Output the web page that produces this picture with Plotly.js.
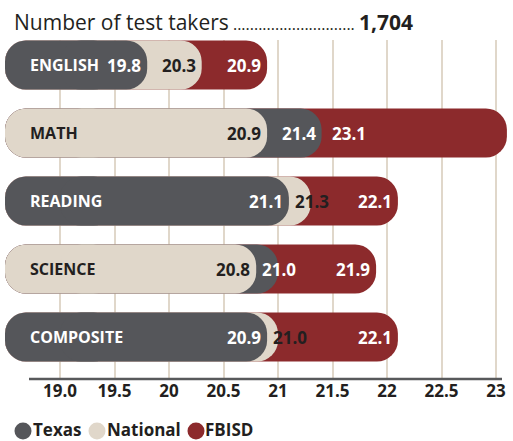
<!DOCTYPE html>
<html>
<head>
<meta charset="utf-8">
<script src="https://cdn.plot.ly/plotly-3.0.1.min.js"></script>
<style>
  html, body { margin: 0; padding: 0; background: #ffffff; }
  #chart { width: 513px; height: 441px; }
</style>
</head>
<body>
<div id="chart"></div>
<script>
// ---------------- DATA ----------------
const categories = ['ENGLISH', 'MATH', 'READING', 'SCIENCE', 'COMPOSITE'];
const seriesNames = ['Texas', 'National', 'FBISD'];
const texas    = [19.8, 21.4, 21.1, 21.0, 20.9];
const national = [20.3, 20.9, 21.3, 20.8, 21.0];
const fbisd    = [20.9, 23.1, 22.1, 21.9, 22.1];
const tickVals = [19, 19.5, 20, 20.5, 21, 21.5, 22, 22.5, 23];
const tickText = ['19.0', '19.5', '20', '20.5', '21', '21.5', '22', '22.5', '23'];
const titleLabel = 'Number of test takers';
const totalTakers = '1,704';

// ---------------- STYLE ----------------
const seriesValues = [texas, national, fbisd];
const barColors  = { Texas: '#55565a', National: '#e0d7ca', FBISD: '#8c2a2c' };
const textColors = { Texas: '#ffffff', National: '#231f20', FBISD: '#ffffff' };
const FONT = '"Open Sans", sans-serif';
const DARK = '#231f20';

const W_PX = 513, H_PX = 441;
const PLOT_L = 5, PLOT_R = 512, PLOT_T = 40, PLOT_B = 379;
const PXU = 109;                    // pixels per score point
const X0 = 19 - (60 - PLOT_L) / PXU; // left edge of the plot (score units)
const X1 = X0 + (PLOT_R - PLOT_L) / PXU;
const BASE = 19.0;                  // main body starts here
const CAP_BASE = 19.5;              // left cap runs from here to the left edge
const CAT_PX = 68;                  // px per category
const Y_TOP = -(65 - PLOT_T) / CAT_PX;
const Y_BOT = Y_TOP + (PLOT_B - PLOT_T) / CAT_PX;
const RADIUS = 21;
const BAR_W = 0.72;
const LABEL_W = 34, PAD = 8;
const labelAlignOverride = { MATH: { FBISD: 'start' } };

function px(v) { return PLOT_L + (v - X0) * PXU; }
function toX(p) { return X0 + (p - PLOT_L) / PXU; }

// ---------------- TRACES ----------------
// For every category, order the series from largest (back) to smallest (front)
const ranked = categories.map((c, i) =>
  seriesNames.map((s, k) => ({ s, v: seriesValues[k][i] }))
             .sort((a, b) => b.v - a.v));

const traces = [];
for (let r = 0; r < 3; r++) {
  const cols = ranked.map(rk => barColors[rk[r].s]);
  // rounded left cap (its right end hides under the body)
  traces.push({
    type: 'bar', orientation: 'h', y: categories,
    x: categories.map(() => X0 - CAP_BASE), base: CAP_BASE,
    width: BAR_W, marker: { color: cols, cornerradius: RADIUS, line: { width: 0 } },
    hoverinfo: 'skip', showlegend: false
  });
  // main body ending at the value
  traces.push({
    type: 'bar', orientation: 'h', y: categories,
    x: ranked.map(rk => rk[r].v - BASE), base: BASE,
    width: BAR_W, marker: { color: cols, cornerradius: RADIUS, line: { width: 0 } },
    customdata: ranked.map(rk => rk[r].s),
    hovertemplate: '%{customdata}: %{x}<extra></extra>', showlegend: false
  });
}

// ---------------- ANNOTATIONS ----------------
const annotations = [];
categories.forEach((c, i) => {
  const front = ranked[i][2].s;
  annotations.push({
    xref: 'paper', yref: 'y', x: (28 - PLOT_L) / (PLOT_R - PLOT_L), y: c,
    xanchor: 'left', yanchor: 'middle', showarrow: false,
    text: '<b>' + c + '</b>',
    font: { family: FONT, size: 16, color: textColors[front] }
  });
  const asc = ranked[i].slice().reverse();
  let prevLabelEnd = -1e9;
  asc.forEach((item, j) => {
    const end = px(item.v);
    const segStart = j === 0 ? PLOT_L : px(asc[j - 1].v);
    const ov = (labelAlignOverride[c] || {})[item.s];
    let left;
    if (ov === 'start') left = segStart + 8;
    else if (j === 0 || end - segStart >= LABEL_W + 2 * PAD) left = end - PAD - LABEL_W;
    else left = segStart + 4;
    left = Math.max(left, prevLabelEnd + 5);
    prevLabelEnd = left + LABEL_W;
    annotations.push({
      xref: 'x', yref: 'y', x: toX(left), y: c,
      xanchor: 'left', yanchor: 'middle', showarrow: false,
      text: '<b>' + item.v.toFixed(1) + '</b>',
      font: { family: FONT, size: 17, color: textColors[item.s] }
    });
  });
});

// custom legend (circles + labels) below the axis
const legendCircleX = [23, 97, 196];
const legendTextX = [32, 106, 204];
const legendCircleY = 431, legendTextY = 429;
const shapes = [];
const pw = PLOT_R - PLOT_L, ph = PLOT_B - PLOT_T;
seriesNames.forEach((s, k) => {
  shapes.push({
    type: 'circle', xref: 'paper', yref: 'paper',
    xsizemode: 'pixel', ysizemode: 'pixel',
    xanchor: (legendCircleX[k] - PLOT_L) / pw, yanchor: (PLOT_B - legendCircleY) / ph,
    x0: -8.5, x1: 8.5, y0: -8.5, y1: 8.5,
    fillcolor: barColors[s], line: { width: 0 }
  });
  annotations.push({
    xref: 'paper', yref: 'paper',
    x: (legendTextX[k] - PLOT_L) / pw, y: (PLOT_B - legendTextY) / ph,
    xanchor: 'left', yanchor: 'middle', showarrow: false, borderpad: 0,
    text: '<b>' + s + '</b>',
    font: { family: FONT, size: 17, color: DARK }
  });
});
// axis baseline (shorter than the plot area)
shapes.push({
  type: 'line', xref: 'paper', yref: 'paper',
  x0: (29 - PLOT_L) / pw, x1: (502 - PLOT_L) / pw, y0: 0, y1: 0,
  line: { color: '#58595b', width: 2.5 }, layer: 'above'
});

const dots = '.'.repeat(29);
const layout = {
  width: W_PX, height: H_PX,
  margin: { l: PLOT_L, r: W_PX - PLOT_R, t: PLOT_T, b: H_PX - PLOT_B, pad: 0 },
  paper_bgcolor: '#ffffff', plot_bgcolor: '#ffffff',
  barmode: 'overlay',
  showlegend: false,
  title: {
    text: titleLabel + '<span style="font-size:16px"> ' + dots + ' </span><b>' + totalTakers + '</b>',
    xref: 'container', yref: 'container', x: 14 / W_PX, xanchor: 'left',
    y: 1 - 23 / H_PX, yanchor: 'middle',
    font: { family: FONT, size: 21, color: DARK }
  },
  xaxis: {
    range: [X0, X1], tickmode: 'array', tickvals: tickVals, ticktext: tickText,
    showgrid: true, gridcolor: '#e0d7ca', gridwidth: 2,
    zeroline: false, showline: false, ticks: '',
    tickfont: { family: FONT, size: 17, color: DARK, weight: 'bold' },
    fixedrange: true
  },
  yaxis: {
    type: 'category', categoryarray: categories, range: [Y_BOT, Y_TOP],
    showgrid: false, zeroline: false, showticklabels: false, ticks: '',
    fixedrange: true
  },
  shapes: shapes,
  annotations: annotations
};

Plotly.newPlot('chart', traces, layout, { displayModeBar: false, staticPlot: true });
</script>
</body>
</html>
